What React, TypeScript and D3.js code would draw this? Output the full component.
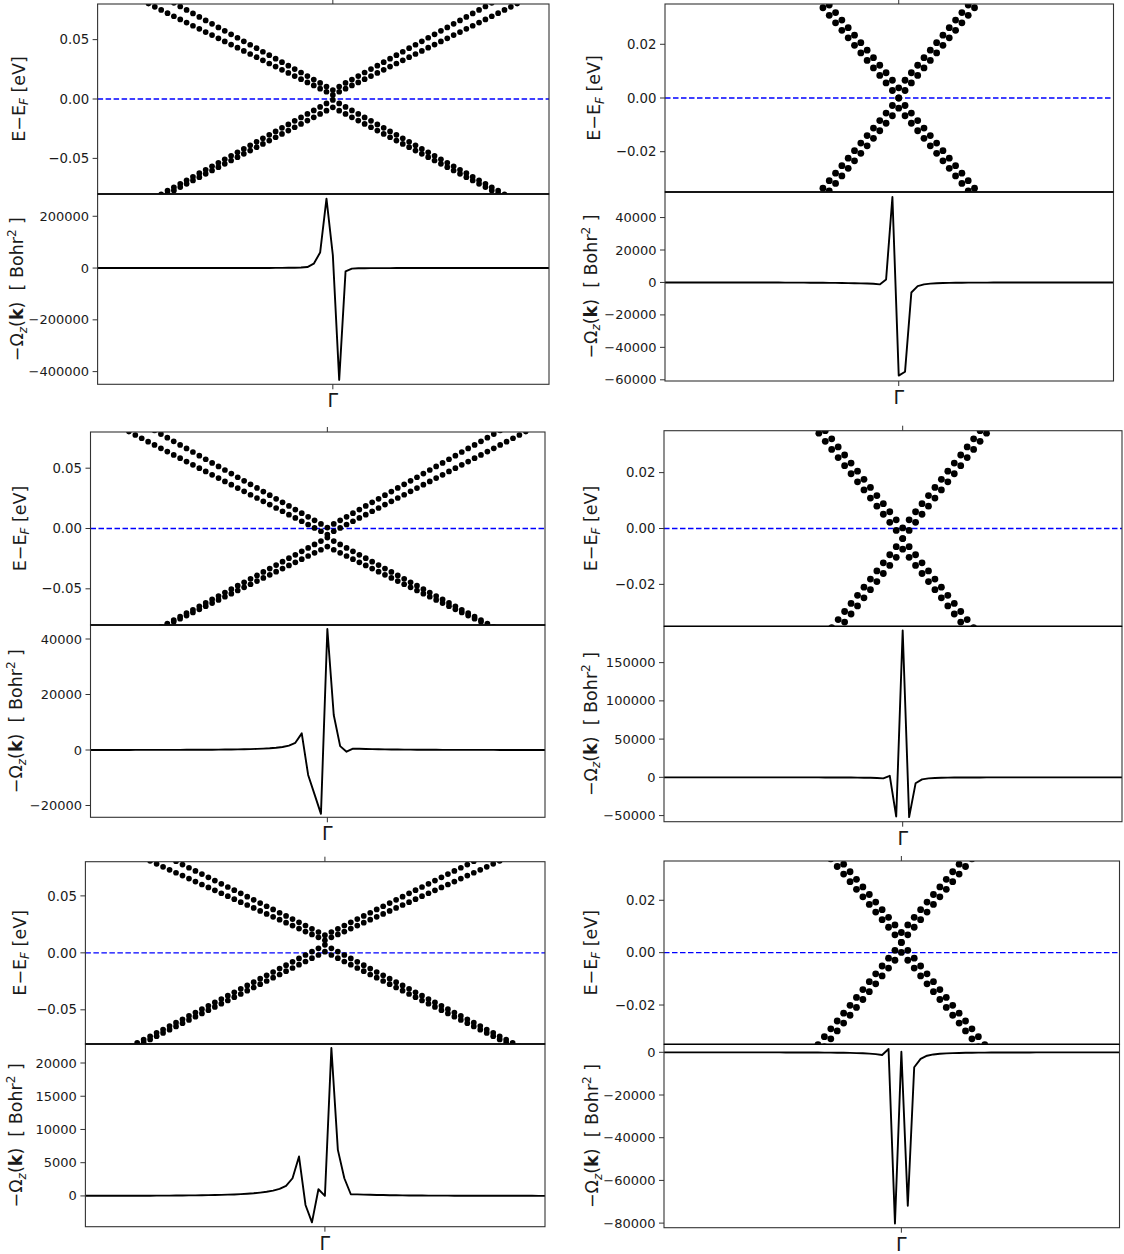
import React from 'react';
import * as d3 from 'd3';

// k-point indices along the path (Γ = 0)
const kPath: [number, number] = [-37, 34];
const kBerry = d3.range(-37, 35);
const kWide = d3.range(-32, 33);
const kNarrow = d3.range(-14, 15);

// ---------- band energies (meV) ----------
const tlBand1 = [101.4, 98.4, 95.5, 92.6, 89.6, 86.7, 83.8, 80.9, 77.9, 75.0, 72.1, 69.1, 66.2, 63.3, 60.3, 57.4, 54.5, 51.6, 48.6, 45.7, 42.8, 39.8, 36.9, 34.0, 31.0, 28.1, 25.2, 22.3, 19.3, 16.4, 13.5, 10.5, 7.6, 10.5, 13.5, 16.4, 19.3, 22.3, 25.2, 28.1, 31.0, 34.0, 36.9, 39.8, 42.8, 45.7, 48.6, 51.6, 54.5, 57.4, 60.3, 63.3, 66.2, 69.1, 72.1, 75.0, 77.9, 80.9, 83.8, 86.7, 89.6, 92.6, 95.5, 98.4, 101.4];
const tlBand2 = [88.2, 85.6, 82.9, 80.3, 77.6, 75.0, 72.3, 69.7, 67.0, 64.4, 61.7, 59.1, 56.4, 53.8, 51.1, 48.5, 45.8, 43.2, 40.5, 37.9, 35.2, 32.6, 29.9, 27.3, 24.6, 22.0, 19.3, 16.7, 14.0, 11.4, 8.7, 6.1, 3.4, 6.1, 8.7, 11.4, 14.0, 16.7, 19.3, 22.0, 24.6, 27.3, 29.9, 32.6, 35.2, 37.9, 40.5, 43.2, 45.8, 48.5, 51.1, 53.8, 56.4, 59.1, 61.7, 64.4, 67.0, 69.7, 72.3, 75.0, 77.6, 80.3, 82.9, 85.6, 88.2];
const tlBand3 = [-94.9, -91.9, -89.0, -86.1, -83.1, -80.2, -77.2, -74.3, -71.4, -68.4, -65.5, -62.5, -59.6, -56.7, -53.7, -50.8, -47.8, -44.9, -42.0, -39.0, -36.1, -33.1, -30.2, -27.3, -24.3, -21.4, -18.4, -15.5, -12.6, -9.6, -6.7, -3.7, -0.8, -3.7, -6.7, -9.6, -12.6, -15.5, -18.4, -21.4, -24.3, -27.3, -30.2, -33.1, -36.1, -39.0, -42.0, -44.9, -47.8, -50.8, -53.7, -56.7, -59.6, -62.5, -65.5, -68.4, -71.4, -74.3, -77.2, -80.2, -83.1, -86.1, -89.0, -91.9, -94.9];
const tlBand4 = [-96.6, -93.8, -91.0, -88.2, -85.4, -82.6, -79.8, -77.0, -74.2, -71.4, -68.6, -65.8, -63.0, -60.2, -57.4, -54.6, -51.8, -49.0, -46.2, -43.4, -40.6, -37.8, -35.0, -32.2, -29.4, -26.6, -23.8, -21.0, -18.2, -15.4, -12.6, -9.8, -7.0, -9.8, -12.6, -15.4, -18.2, -21.0, -23.8, -26.6, -29.4, -32.2, -35.0, -37.8, -40.6, -43.4, -46.2, -49.0, -51.8, -54.6, -57.4, -60.2, -63.0, -65.8, -68.6, -71.4, -74.2, -77.0, -79.8, -82.6, -85.4, -88.2, -91.0, -93.8, -96.6];

const mlBand1 = [96.2, 93.2, 90.2, 87.2, 84.2, 81.3, 78.3, 75.3, 72.3, 69.3, 66.4, 63.4, 60.4, 57.4, 54.4, 51.5, 48.5, 45.5, 42.5, 39.5, 36.6, 33.6, 30.6, 27.6, 24.6, 21.7, 18.7, 15.7, 12.7, 9.7, 6.8, 3.8, 0.8, 3.8, 6.8, 9.7, 12.7, 15.7, 18.7, 21.7, 24.6, 27.6, 30.6, 33.6, 36.6, 39.5, 42.5, 45.5, 48.5, 51.5, 54.4, 57.4, 60.4, 63.4, 66.4, 69.3, 72.3, 75.3, 78.3, 81.3, 84.2, 87.2, 90.2, 93.2, 96.2];
const mlBand2 = [83.0, 80.3, 77.5, 74.8, 72.0, 69.3, 66.5, 63.8, 61.0, 58.3, 55.5, 52.8, 50.0, 47.3, 44.5, 41.8, 39.0, 36.3, 33.5, 30.8, 28.0, 25.3, 22.5, 19.8, 17.0, 14.3, 11.5, 8.8, 6.0, 3.3, 0.5, -2.3, -5.0, -2.3, 0.5, 3.3, 6.0, 8.8, 11.5, 14.3, 17.0, 19.8, 22.5, 25.3, 28.0, 30.8, 33.5, 36.3, 39.0, 41.8, 44.5, 47.3, 50.0, 52.8, 55.5, 58.3, 61.0, 63.8, 66.5, 69.3, 72.0, 74.8, 77.5, 80.3, 83.0];
const mlBand3 = [-98.7, -95.9, -93.0, -90.2, -87.3, -84.5, -81.6, -78.8, -75.9, -73.1, -70.2, -67.4, -64.5, -61.7, -58.8, -56.0, -53.1, -50.3, -47.4, -44.6, -41.7, -38.9, -36.0, -33.2, -30.3, -27.5, -24.6, -21.8, -18.9, -16.1, -13.2, -10.4, -7.5, -10.4, -13.2, -16.1, -18.9, -21.8, -24.6, -27.5, -30.3, -33.2, -36.0, -38.9, -41.7, -44.6, -47.4, -50.3, -53.1, -56.0, -58.8, -61.7, -64.5, -67.4, -70.2, -73.1, -75.9, -78.8, -81.6, -84.5, -87.3, -90.2, -93.0, -95.9, -98.7];
const mlBand4 = [-98.2, -95.6, -93.0, -90.4, -87.8, -85.2, -82.6, -80.0, -77.4, -74.8, -72.2, -69.6, -67.0, -64.4, -61.8, -59.2, -56.6, -54.0, -51.4, -48.8, -46.2, -43.6, -41.0, -38.4, -35.8, -33.2, -30.6, -28.0, -25.4, -22.8, -20.2, -17.6, -15.0, -17.6, -20.2, -22.8, -25.4, -28.0, -30.6, -33.2, -35.8, -38.4, -41.0, -43.6, -46.2, -48.8, -51.4, -54.0, -56.6, -59.2, -61.8, -64.4, -67.0, -69.6, -72.2, -74.8, -77.4, -80.0, -82.6, -85.2, -87.8, -90.4, -93.0, -95.6, -98.2];

const blBand1 = [105.7, 102.9, 100.1, 97.3, 94.5, 91.6, 88.8, 86.0, 83.2, 80.4, 77.5, 74.7, 71.9, 69.1, 66.3, 63.4, 60.6, 57.8, 55.0, 52.2, 49.3, 46.5, 43.7, 40.9, 38.1, 35.2, 32.4, 29.6, 26.8, 24.0, 21.1, 18.3, 15.5, 18.3, 21.1, 24.0, 26.8, 29.6, 32.4, 35.2, 38.1, 40.9, 43.7, 46.5, 49.3, 52.2, 55.0, 57.8, 60.6, 63.4, 66.3, 69.1, 71.9, 74.7, 77.5, 80.4, 83.2, 86.0, 88.8, 91.6, 94.5, 97.3, 100.1, 102.9, 105.7];
const blBand2 = [93.6, 91.0, 88.4, 85.8, 83.2, 80.7, 78.1, 75.5, 72.9, 70.3, 67.8, 65.2, 62.6, 60.0, 57.4, 54.9, 52.3, 49.7, 47.1, 44.5, 42.0, 39.4, 36.8, 34.2, 31.6, 29.1, 26.5, 23.9, 21.3, 18.7, 16.2, 13.6, 11.0, 13.6, 16.2, 18.7, 21.3, 23.9, 26.5, 29.1, 31.6, 34.2, 36.8, 39.4, 42.0, 44.5, 47.1, 49.7, 52.3, 54.9, 57.4, 60.0, 62.6, 65.2, 67.8, 70.3, 72.9, 75.5, 78.1, 80.7, 83.2, 85.8, 88.4, 91.0, 93.6];
const blBand3 = [-88.0, -85.1, -82.1, -79.1, -76.2, -73.2, -70.2, -67.3, -64.3, -61.3, -58.3, -55.4, -52.4, -49.4, -46.5, -43.5, -40.5, -37.6, -34.6, -31.6, -28.6, -25.7, -22.7, -19.7, -16.8, -13.8, -10.8, -7.9, -4.9, -1.9, 1.1, 4.0, 7.0, 4.0, 1.1, -1.9, -4.9, -7.9, -10.8, -13.8, -16.8, -19.7, -22.7, -25.7, -28.6, -31.6, -34.6, -37.6, -40.5, -43.5, -46.5, -49.4, -52.4, -55.4, -58.3, -61.3, -64.3, -67.3, -70.2, -73.2, -76.2, -79.1, -82.1, -85.1, -88.0];
const blBand4 = [-90.2, -87.4, -84.5, -81.7, -78.8, -76.0, -73.1, -70.3, -67.4, -64.6, -61.7, -58.9, -56.0, -53.2, -50.3, -47.5, -44.6, -41.8, -38.9, -36.1, -33.2, -30.4, -27.5, -24.7, -21.8, -19.0, -16.1, -13.3, -10.4, -7.6, -4.7, -1.9, 1.0, -1.9, -4.7, -7.6, -10.4, -13.3, -16.1, -19.0, -21.8, -24.7, -27.5, -30.4, -33.2, -36.1, -38.9, -41.8, -44.6, -47.5, -50.3, -53.2, -56.0, -58.9, -61.7, -64.6, -67.4, -70.3, -73.1, -76.0, -78.8, -81.7, -84.5, -87.4, -90.2];

const trBand1 = [43.0, 40.2, 37.4, 34.6, 31.8, 29.0, 26.2, 23.4, 20.6, 17.8, 15.0, 12.2, 9.4, 6.6, 3.8, 6.6, 9.4, 12.2, 15.0, 17.8, 20.6, 23.4, 26.2, 29.0, 31.8, 34.6, 37.4, 40.2, 43.0];
const trBand2 = [39.2, 36.4, 33.6, 30.8, 28.0, 25.2, 22.4, 19.6, 16.8, 14.0, 11.2, 8.4, 5.6, 2.8, 0.0, 2.8, 5.6, 8.4, 11.2, 14.0, 16.8, 19.6, 22.4, 25.2, 28.0, 30.8, 33.6, 36.4, 39.2];
const trBand3 = [-39.2, -36.4, -33.6, -30.8, -28.0, -25.2, -22.4, -19.6, -16.8, -14.0, -11.2, -8.4, -5.6, -2.8, 0.0, -2.8, -5.6, -8.4, -11.2, -14.0, -16.8, -19.6, -22.4, -25.2, -28.0, -30.8, -33.6, -36.4, -39.2];
const trBand4 = [-43.0, -40.2, -37.4, -34.6, -31.8, -29.0, -26.2, -23.4, -20.6, -17.8, -15.0, -12.2, -9.4, -6.6, -3.8, -6.6, -9.4, -12.2, -15.0, -17.8, -20.6, -23.4, -26.2, -29.0, -31.8, -34.6, -37.4, -40.2, -43.0];

const mrBand1 = [40.8, 37.9, 35.0, 32.1, 29.2, 26.3, 23.4, 20.5, 17.6, 14.7, 11.8, 8.9, 6.0, 3.1, 0.2, 3.1, 6.0, 8.9, 11.8, 14.7, 17.6, 20.5, 23.4, 26.3, 29.2, 32.1, 35.0, 37.9, 40.8];
const mrBand2 = [37.0, 34.1, 31.2, 28.3, 25.4, 22.5, 19.6, 16.7, 13.8, 10.9, 8.0, 5.1, 2.2, -0.7, -3.6, -0.7, 2.2, 5.1, 8.0, 10.9, 13.8, 16.7, 19.6, 22.5, 25.4, 28.3, 31.2, 34.1, 37.0];
const mrBand3 = [-44.2, -41.3, -38.4, -35.5, -32.6, -29.7, -26.8, -23.9, -21.0, -18.1, -15.2, -12.3, -9.4, -6.5, -3.6, -6.5, -9.4, -12.3, -15.2, -18.1, -21.0, -23.9, -26.8, -29.7, -32.6, -35.5, -38.4, -41.3, -44.2];
const mrBand4 = [-48.0, -45.1, -42.2, -39.3, -36.4, -33.5, -30.6, -27.7, -24.8, -21.9, -19.0, -16.1, -13.2, -10.3, -7.4, -10.3, -13.2, -16.1, -19.0, -21.9, -24.8, -27.7, -30.6, -33.5, -36.4, -39.3, -42.2, -45.1, -48.0];

const brBand1 = [48.3, 45.4, 42.5, 39.6, 36.7, 33.8, 30.9, 28.0, 25.1, 22.2, 19.3, 16.4, 13.5, 10.6, 7.7, 10.6, 13.5, 16.4, 19.3, 22.2, 25.1, 28.0, 30.9, 33.8, 36.7, 39.6, 42.5, 45.4, 48.3];
const brBand2 = [44.5, 41.6, 38.7, 35.8, 32.9, 30.0, 27.1, 24.2, 21.3, 18.4, 15.5, 12.6, 9.7, 6.8, 3.9, 6.8, 9.7, 12.6, 15.5, 18.4, 21.3, 24.2, 27.1, 30.0, 32.9, 35.8, 38.7, 41.6, 44.5];
const brBand3 = [-38.1, -35.1, -32.1, -29.1, -26.1, -23.1, -20.1, -17.1, -14.1, -11.1, -8.1, -5.1, -2.1, 0.9, 3.9, 0.9, -2.1, -5.1, -8.1, -11.1, -14.1, -17.1, -20.1, -23.1, -26.1, -29.1, -32.1, -35.1, -38.1];
const brBand4 = [-41.9, -38.9, -35.9, -32.9, -29.9, -26.9, -23.9, -20.9, -17.9, -14.9, -11.9, -8.9, -5.9, -2.9, 0.1, -2.9, -5.9, -8.9, -11.9, -14.9, -17.9, -20.9, -23.9, -26.9, -29.9, -32.9, -35.9, -38.9, -41.9];

// ---------- Berry curvature −Ω_z(k) (Bohr²) on kBerry ----------
const tlBerry = [14, 15, 16, 17, 18, 20, 22, 24, 26, 28, 31, 34, 38, 42, 46, 52, 58, 65, 75, 85, 100, 115, 135, 160, 195, 240, 300, 380, 500, 680, 950, 1400, 2200,
  3900, 16800, 60000, 268000, 50000, -432000, -13000, -2200, -900, -500, -320, -220, -160, -120, -95, -75, -62, -52, -44, -38, -33, -29, -26, -23, -21, -19, -17, -16, -15, -14, -13, -12, -11, -10, -10, -9, -9, -8, -8];
const trBerry = [-15, -16, -17, -18, -19, -20, -22, -24, -26, -28, -31, -34, -37, -41, -46, -51, -57, -64, -72, -82, -94, -108, -125, -145, -170, -200, -235, -280, -330, -390, -460, -540, -640, -800,
  -1200, 1800, 52700, -57400, -55000, -6200, -2300, -1200, -750, -500, -350, -260, -200, -160, -130, -110, -95, -80, -70, -62, -55, -50, -45, -41, -37, -34, -31, -29, -27, -25, -23, -22, -21, -20, -19, -18, -17, -16];
const mlBerry = [18, 19, 20, 21, 23, 25, 27, 29, 32, 35, 39, 43, 48, 54, 60, 67, 76, 87, 100, 115, 135, 160, 190, 225, 270, 330, 400, 500, 620, 800, 1100, 1600, 2600,
  6000, -9000, -16000, -23000, 43600, 12600, 1400, -600, 500, 450, 380, 320, 270, 230, 195, 165, 140, 120, 104, 90, 79, 70, 62, 56, 50, 45, 41, 37, 34, 31, 29, 27, 25, 23, 21, 20, 19, 18, 17];
const mrBerry = [-11, -12, -12, -13, -14, -15, -16, -17, -18, -19, -20, -22, -24, -26, -28, -31, -34, -38, -42, -47, -53, -60, -69, -80, -94, -112, -135, -165, -205, -260, -340, -450, -620, -900,
  -1300, 2000, -51300, 192000, -52000, -7800, -2600, -1300, -800, -540, -390, -290, -225, -180, -148, -124, -105, -90, -78, -68, -60, -53, -48, -43, -39, -35, -32, -29, -27, -25, -23, -21, -20, -19, -18, -17, -16, -15];
const blBerry = [16, 17, 18, 19, 21, 23, 25, 27, 30, 33, 37, 41, 46, 52, 59, 67, 76, 87, 100, 115, 135, 160, 190, 225, 270, 330, 400, 500, 620, 800, 1050, 1500, 2660,
  5930, -1360, -3970, 1000, 0, 22250, 6930, 2660, 250, 230, 200, 175, 150, 130, 112, 97, 85, 75, 66, 59, 53, 48, 43, 39, 36, 33, 30, 28, 26, 24, 22, 21, 20, 19, 18, 17, 16, 15, 14];
const brBerry = [-13, -13, -14, -15, -16, -17, -18, -19, -21, -22, -24, -26, -28, -31, -34, -37, -41, -46, -51, -57, -64, -73, -84, -97, -113, -133, -158, -190, -230, -285, -360, -470, -620, -850,
  -1250, 1560, -80150, 300, -71900, -7000, -3100, -1600, -1000, -680, -490, -370, -290, -230, -190, -160, -135, -115, -100, -88, -78, -69, -62, -56, -51, -46, -42, -39, -36, -33, -31, -29, -27, -25, -24, -22, -21, -20];

// ---------- tick values ----------
const eTicksWide = [-50, 0, 50];
const eTicksNarrow = [-20, 0, 20];
const tlBerryTicks = [-400000, -200000, 0, 200000];
const trBerryTicks = [-60000, -40000, -20000, 0, 20000, 40000];
const mlBerryTicks = [-20000, 0, 20000, 40000];
const mrBerryTicks = [-50000, 0, 50000, 100000, 150000];
const blBerryTicks = [0, 5000, 10000, 15000, 20000];
const brBerryTicks = [-80000, -60000, -40000, -20000, 0];

const panels = [
  { id: 'tl', k: kWide, bands: [tlBand1, tlBand2, tlBand3, tlBand4], berry: tlBerry, eLim: 80, eTicks: eTicksWide,
    berryDomain: [-449000, 286000], berryTicks: tlBerryTicks, dotR: 2.85,
    x0: 97.6, x1: 549, top: 4, mid: 194, bot: 384.3, bandLabelX: 18.7, berryLabelX: 17 },
  { id: 'tr', k: kNarrow, bands: [trBand1, trBand2, trBand3, trBand4], berry: trBerry, eLim: 35, eTicks: eTicksNarrow,
    berryDomain: [-60740, 55750], berryTicks: trBerryTicks, dotR: 3.4,
    x0: 665, x1: 1113.5, top: 4, mid: 192, bot: 381, bandLabelX: 594, berryLabelX: 590.5 },
  { id: 'ml', k: kWide, bands: [mlBand1, mlBand2, mlBand3, mlBand4], berry: mlBerry, eLim: 80, eTicks: eTicksWide,
    berryDomain: [-24250, 45045], berryTicks: mlBerryTicks, dotR: 2.85,
    x0: 90.5, x1: 545, top: 432, mid: 625, bot: 817.3, bandLabelX: 19.7, berryLabelX: 16 },
  { id: 'mr', k: kNarrow, bands: [mrBand1, mrBand2, mrBand3, mrBand4], berry: mrBerry, eLim: 35, eTicks: eTicksNarrow,
    berryDomain: [-58000, 197500], berryTicks: mrBerryTicks, dotR: 3.4,
    x0: 664, x1: 1122, top: 430.7, mid: 626.3, bot: 821.7, bandLabelX: 590.5, berryLabelX: 590.5 },
  { id: 'bl', k: kWide, bands: [blBand1, blBand2, blBand3, blBand4], berry: blBerry, eLim: 80, eTicks: eTicksWide,
    berryDomain: [-4630, 22860], berryTicks: blBerryTicks, dotR: 2.85,
    x0: 85.4, x1: 545, top: 861.7, mid: 1044, bot: 1226.7, bandLabelX: 19.7, berryLabelX: 16 },
  { id: 'br', k: kNarrow, bands: [brBand1, brBand2, brBand3, brBand4], berry: brBerry, eLim: 35, eTicks: eTicksNarrow,
    berryDomain: [-82150, 3750], berryTicks: brBerryTicks, dotR: 3.4,
    x0: 664, x1: 1119.5, top: 861, mid: 1044.3, bot: 1227.7, bandLabelX: 590.5, berryLabelX: 592 },
];

const FONT = '"DejaVu Sans", "Liberation Sans", sans-serif';
const TEXT = '#1a1a1a';
const FRAME = '#333';
const fmtE = d3.format('.2f');
const fmtO = d3.format('d');

function Panel({ p }: { p: any }) {
  const x = d3.scaleLinear().domain(kPath).range([p.x0, p.x1]);
  const yE = d3.scaleLinear().domain([-p.eLim, p.eLim]).range([p.mid, p.top]);
  const yO = d3.scaleLinear().domain(p.berryDomain).range([p.bot, p.mid]);
  const berryPath = d3.line<number>().x((_, i) => x(kBerry[i])).y((v) => yO(v))(p.berry) || '';
  const gx = x(0);
  const w = p.x1 - p.x0;
  return (
    <g>
      <defs>
        <clipPath id={`band-${p.id}`}>
          <rect x={p.x0} y={p.top} width={w} height={p.mid - p.top} />
        </clipPath>
        <clipPath id={`berry-${p.id}`}>
          <rect x={p.x0} y={p.mid} width={w} height={p.bot - p.mid} />
        </clipPath>
      </defs>

      {/* band structure */}
      <line x1={p.x0} x2={p.x1} y1={yE(0)} y2={yE(0)} stroke="#0000ff" strokeWidth={1.4} strokeDasharray="5.5,2.5" />
      <g clipPath={`url(#band-${p.id})`} fill="#000">
        {p.bands.map((band: number[], b: number) =>
          band.map((e: number, i: number) => (
            <circle key={`${b}-${i}`} cx={x(p.k[i])} cy={yE(e)} r={p.dotR} />
          ))
        )}
      </g>
      <rect x={p.x0} y={p.top} width={w} height={p.mid - p.top} fill="none" stroke={FRAME} strokeWidth={1.1} />
      <line x1={gx} x2={gx} y1={p.top - 5} y2={p.top} stroke={FRAME} strokeWidth={1} />
      {p.eTicks.map((t: number) => (
        <g key={`et${t}`}>
          <line x1={p.x0 - 5} x2={p.x0} y1={yE(t)} y2={yE(t)} stroke={FRAME} strokeWidth={1} />
          <text x={p.x0 - 8.5} y={yE(t)} dy="0.35em" textAnchor="end" fontSize={13.3} fill={TEXT} fontFamily={FONT}>
            {fmtE(t / 1000)}
          </text>
        </g>
      ))}
      <text transform={`translate(${p.bandLabelX},${(p.top + p.mid) / 2}) rotate(-90)`} textAnchor="middle"
        fontSize={17.5} fill={TEXT} fontFamily={FONT} dy="0.35em">
        E−E<tspan fontSize={12} fontStyle="italic" dy="3.5">F</tspan><tspan dy="-3.5">{' [eV]'}</tspan>
      </text>

      {/* Berry curvature */}
      <path d={berryPath} clipPath={`url(#berry-${p.id})`} fill="none" stroke="#000" strokeWidth={1.9} strokeLinejoin="round" />
      <rect x={p.x0} y={p.mid} width={w} height={p.bot - p.mid} fill="none" stroke={FRAME} strokeWidth={1.1} />
      <line x1={p.x0} x2={p.x1} y1={p.mid} y2={p.mid} stroke="#000" strokeWidth={1.3} />
      {p.berryTicks.map((t: number) => (
        <g key={`ot${t}`}>
          <line x1={p.x0 - 5} x2={p.x0} y1={yO(t)} y2={yO(t)} stroke={FRAME} strokeWidth={1} />
          <text x={p.x0 - 8.5} y={yO(t)} dy="0.35em" textAnchor="end" fontSize={13} fill={TEXT} fontFamily={FONT}>
            {fmtO(t)}
          </text>
        </g>
      ))}
      <line x1={gx} x2={gx} y1={p.bot} y2={p.bot + 5} stroke={FRAME} strokeWidth={1} />
      <text x={gx} y={p.bot + 16} dy="0.36em" textAnchor="middle" fontSize={19} fill={TEXT} fontFamily={FONT}>Γ</text>
      <text transform={`translate(${p.berryLabelX},${(p.mid + p.bot) / 2}) rotate(-90)`} textAnchor="middle"
        fontSize={17.5} fill={TEXT} fontFamily={FONT} dy="0.35em" style={{ whiteSpace: 'pre' }}>
        −Ω<tspan fontSize={12} fontStyle="italic" dy="3.5">z</tspan><tspan dy="-3.5">(</tspan><tspan fontWeight="bold">k</tspan>
        <tspan>{')  [ Bohr'}</tspan><tspan fontSize={12} dy="-7">2</tspan><tspan dy="7">{' ]'}</tspan>
      </text>
    </g>
  );
}

export default function App() {
  return (
    <svg width={1124} height={1254} style={{ position: 'absolute', left: 0, top: 0, background: '#fff' }}
      xmlns="http://www.w3.org/2000/svg">
      <rect x={0} y={0} width={1124} height={1254} fill="#fff" />
      {panels.map((p) => (
        <Panel key={p.id} p={p} />
      ))}
    </svg>
  );
}
